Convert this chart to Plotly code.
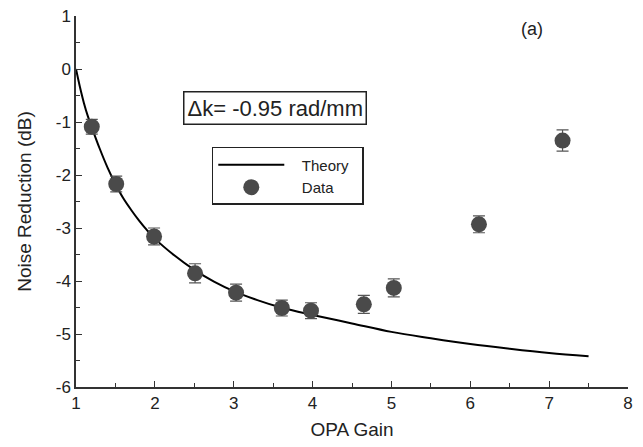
import plotly.graph_objects as go

# Data
gain = [1.20, 1.51, 1.99, 2.51, 3.03, 3.61, 3.98, 4.65, 5.03, 6.11, 7.17]
noise = [-1.09, -2.17, -3.16, -3.855, -4.22, -4.51, -4.56, -4.44, -4.13, -2.93, -1.35]
err = [0.14, 0.15, 0.16, 0.18, 0.16, 0.15, 0.15, 0.17, 0.17, 0.16, 0.20]

theory_x = [1.0, 1.05, 1.1, 1.15, 1.2, 1.3, 1.4, 1.5, 1.6, 1.7, 1.8, 1.9, 2.0,
            2.25, 2.5, 2.75, 3.0, 3.3, 3.6, 4.0, 4.5, 5.0, 5.5, 6.0, 6.5, 7.0, 7.5]
theory_y = [0.0, -0.34, -0.64, -0.89, -1.10, -1.50, -1.86, -2.17, -2.44, -2.66,
            -2.86, -3.04, -3.20, -3.52, -3.79, -4.01, -4.19, -4.36, -4.50, -4.64,
            -4.80, -4.96, -5.08, -5.19, -5.28, -5.36, -5.42]

x_ticks = [1, 2, 3, 4, 5, 6, 7, 8]
y_ticks = [1, 0, -1, -2, -3, -4, -5, -6]
y_tick_text = ["1", "0", "-1", "-2", "-3", "-4", "-5", "-6"]

FONT = "Liberation Sans, Arial, sans-serif"
AX = "#333333"
TXT = "#222222"
NB = "\u00a0"

fig = go.Figure()
fig.add_trace(go.Scatter(
    x=theory_x, y=theory_y, mode="lines", name=NB * 3 + "Theory" + NB * 2,
    line=dict(color="black", width=2, shape="spline", smoothing=1.0),
))
fig.add_trace(go.Scatter(
    x=gain, y=noise, mode="markers", name=NB * 3 + "Data",
    marker=dict(color="#4a4a4a", size=16, line=dict(width=0)),
    error_y=dict(type="data", array=err, visible=True, color="#555555",
                 thickness=1.2, width=6),
))

axis_common = dict(
    showgrid=False, zeroline=False, showline=True, linecolor=AX, linewidth=1.5,
    ticks="inside", ticklen=6, tickcolor=AX, tickwidth=1.2,
    tickfont=dict(family=FONT, size=17, color=TXT),
    minor=dict(ticks="inside", ticklen=4, tickcolor=AX, dtick=0.5, showgrid=False),
    mirror=False, automargin=False, ticklabeloverflow="allow",
)

# page body has an 8px margin, so the figure is sized/offset to compensate
fig.update_layout(
    width=635, height=439,
    margin=dict(l=68, r=15, t=8, b=60),
    paper_bgcolor="white", plot_bgcolor="white",
    font=dict(family=FONT, color=TXT),
    xaxis=dict(range=[1, 8], tickvals=x_ticks, **axis_common,
               title=dict(text="OPA Gain", font=dict(family=FONT, size=19), standoff=11)),
    yaxis=dict(range=[-6, 1], tickvals=y_ticks, ticktext=y_tick_text, **axis_common,
               title=dict(text="Noise Reduction (dB)", font=dict(family=FONT, size=19), standoff=19)),
    legend=dict(x=0.246, y=0.647, xanchor="left", yanchor="top",
                bordercolor=TXT, borderwidth=1.5, bgcolor="white",
                font=dict(family=FONT, size=15), itemwidth=66,
                tracegroupgap=0),
    showlegend=True,
    annotations=[
        dict(text="\u0394k= -0.95 rad/mm", xref="paper", yref="paper",
             x=0.361, y=0.752, xanchor="center", yanchor="middle", showarrow=False,
             font=dict(family=FONT, size=22, color=TXT),
             bordercolor=TXT, borderwidth=1.5, borderpad=3, bgcolor="white"),
        dict(text="(a)", xref="paper", yref="paper", x=0.826, y=0.965,
             xanchor="center", yanchor="middle", showarrow=False,
             font=dict(family=FONT, size=18, color=TXT)),
    ],
)

fig.write_html("out.html")
